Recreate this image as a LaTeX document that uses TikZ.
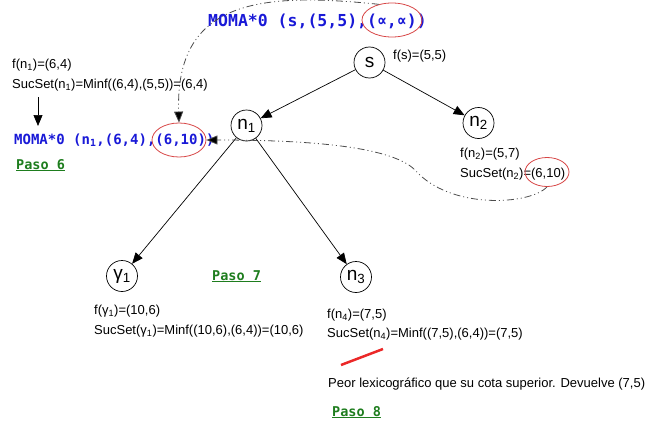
\documentclass[tikz,border=0pt]{standalone}
\usepackage{fontspec}
\setmainfont{Liberation Sans}
\setmonofont{DejaVu Sans Mono}
\usetikzlibrary{arrows.meta,shapes.geometric}
\definecolor{momablue}{RGB}{25,25,215}
\definecolor{pasogreen}{RGB}{30,125,30}
\definecolor{ringred}{RGB}{215,70,70}
\definecolor{barred}{RGB}{235,40,40}
\begin{document}
\begin{tikzpicture}[x=1pt,y=-1pt,
  txt/.style={anchor=base west, inner sep=0pt, font=\fontsize{13}{15}\selectfont},
  moma/.style={anchor=base west, inner sep=0pt, text=momablue, font=\ttfamily\bfseries\fontsize{14}{16}\selectfont},
  paso/.style={anchor=base west, inner sep=0pt, text=pasogreen, font=\ttfamily\bfseries\fontsize{13.5}{15}\selectfont},
  state/.style={circle, draw, line width=0.7pt, minimum size=31pt, inner sep=0pt, font=\fontsize{19}{19}\selectfont},
  ring/.style={ellipse, draw=ringred, line width=0.8pt, inner sep=0pt},
  arr/.style={-{Triangle[length=11pt,width=9pt]}, line width=0.7pt},
  dd/.style={draw=black!70, line width=0.8pt, dash pattern=on 7pt off 3pt on 1pt off 3pt on 1pt off 3pt, -{Triangle[length=11pt,width=9pt,fill=black]}}
]
\useasboundingbox (0,0) rectangle (648,423);

% titles
\node[moma, font=\ttfamily\bfseries\fontsize{16.5}{18}\selectfont] (m0) at (208,27) {MOMA*0 (s,(5,5),(∝,∝))};
\node[ring, minimum width=60pt, minimum height=34pt] (e1) at (392,20) {};
\node[moma] (m1) at (14,144) {MOMA*0 (n\textsubscript{1},(6,4),(6,10))};
\node[ring, minimum width=54pt, minimum height=34pt] (e2) at (179,140) {};

% left texts
\node[txt] (t1) at (12,68) {f(n\textsubscript{1})=(6,4)};
\node[txt] (t2) at (12,88) {SucSet(n\textsubscript{1})=Minf((6,4),(5,5))=(6,4)};
\coordinate (a1) at (38,97);
\coordinate (a2) at (38,126);
\draw[arr] (a1) -- (a2);
\node[paso] (p6) at (16,169) {\underline{Paso 6}};

% tree nodes
\node[state] (s) at (369.5,62.5) {s};
\node[state] (n1) at (246.5,125.5) {n\textsubscript{1}};
\node[state] (n2) at (478.5,123) {n\textsubscript{2}};
\node[state] (g1) at (122,276) {γ\textsubscript{1}};
\node[state] (n3) at (356,277) {n\textsubscript{3}};

\draw[arr] (s) -- (n1);
\draw[arr] (s) -- (n2);
\draw[arr] (n1) -- (g1);
\draw[arr] (n1) -- (n3);

\node[txt] (fs) at (393,59) {f(s)=(5,5)};
\node[txt] (fn2) at (460,157) {f(n\textsubscript{2})=(5,7)};
\node[txt] (sn2) at (460,177) {SucSet(n\textsubscript{2})=(6,10)};
\node[ring, minimum width=44pt, minimum height=29pt] (e3) at (547,172) {};

\node[txt] (fg1) at (94,314) {f(γ\textsubscript{1})=(10,6)};
\node[txt] (sg1) at (94,334) {SucSet(γ\textsubscript{1})=Minf((10,6),(6,4))=(10,6)};
\node[paso] (p7) at (212,280) {\underline{Paso 7}};

\node[txt] (fn4) at (327,318) {f(n\textsubscript{4})=(7,5)};
\node[txt] (sn4) at (327,337) {SucSet(n\textsubscript{4})=Minf((7,5),(6,4))=(7,5)};
\coordinate (r1) at (341,365);
\coordinate (r2) at (383,349);
\draw[barred, line width=2.5pt] (r1) -- (r2);
\node[txt] (peor) at (328,387) {Peor lexicográfico que su cota superior. Devuelve (7,5)};
\node[paso] (p8) at (332,416) {\underline{Paso 8}};

% dash-dot connectors
\draw[dd] (e1.130) .. controls (260,-8) and (175,0) .. (e2.north);
\draw[dd] (e3.south) .. controls (530,205) and (450,210) .. (415,170)
          .. controls (390,145) and (300,140) .. (e2.east);
\end{tikzpicture}
\end{document}
